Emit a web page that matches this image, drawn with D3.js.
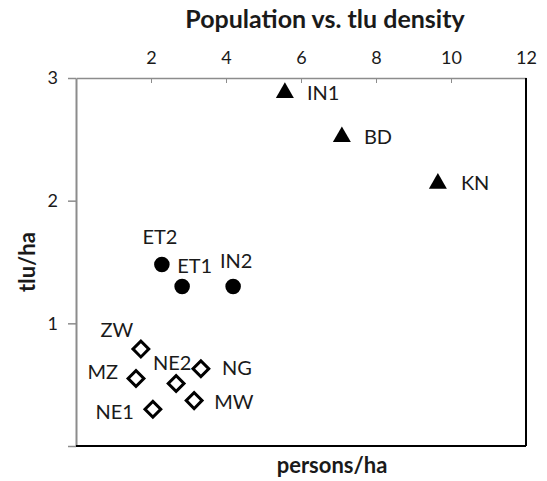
<!DOCTYPE html>
<html><head><meta charset="utf-8">
<script src="https://cdn.jsdelivr.net/npm/d3@7"></script>
<style>body{margin:0;background:#fff}</style>
</head><body><svg id="c" width="547" height="481"></svg>
<script>
// Data
const triNames = ["IN1","BD","KN"];
const triX = [5.57, 7.09, 9.65];
const triY = [2.88, 2.52, 2.14];
const cirNames = ["ET2","ET1","IN2"];
const cirX = [2.29, 2.83, 4.19];
const cirY = [1.48, 1.30, 1.30];
const diaNames = ["ZW","MZ","NE2","NG","MW","NE1"];
const diaX = [1.73, 1.60, 2.67, 3.33, 3.15, 2.05];
const diaY = [0.79, 0.55, 0.51, 0.63, 0.37, 0.30];
const xTicks = [2,4,6,8,10,12];
const yTicks = [0,1,2,3];
const title = "Population vs. tlu density";
const xTitle = "persons/ha";
const yTitle = "tlu/ha";

// Label placement (layout)
const labelPlace = {
  IN1:[22,0,"start"], BD:[22,0,"start"], KN:[23,0,"start"],
  ET2:[-2,-27,"middle"], ET1:[-5,-21,"start"], IN2:[3,-26,"middle"],
  ZW:[-24,-19,"middle"], MZ:[-18,-7,"end"], NE2:[-4,-20,"middle"],
  NG:[21,-1,"start"], MW:[20,1,"start"], NE1:[-19,3,"end"]
};

const font = "Lato, 'Open Sans', sans-serif";
const svg = d3.select("#c");
const L=76, R=526, T=78, B=446;
const x = d3.scaleLinear().domain([0,12]).range([L,R]);
const y = d3.scaleLinear().domain([0,3]).range([B,T]);

// Top axis
const gx = svg.append("g").attr("transform",`translate(0,${T})`)
  .call(d3.axisTop(x).tickValues(xTicks).tickSizeInner(-5).tickSizeOuter(0).tickPadding(14));
gx.select(".domain").attr("stroke","#8c8c8c").attr("stroke-width",1.5);
gx.selectAll(".tick line").attr("stroke","#8c8c8c");
gx.selectAll(".tick text").attr("font-family",font).attr("font-size",18).attr("fill","#1a1a1a");

// Left axis
const gy = svg.append("g").attr("transform",`translate(${L},0)`)
  .call(d3.axisLeft(y).tickValues(yTicks).tickSizeInner(8).tickSizeOuter(0).tickPadding(10)
    .tickFormat(d=>d===0?"":d));
gy.select(".domain").attr("stroke","#8c8c8c").attr("stroke-width",2);
gy.selectAll(".tick line").attr("stroke","#8c8c8c").attr("stroke-width",1.5);
gy.selectAll(".tick text").attr("font-family",font).attr("font-size",18).attr("fill","#1a1a1a");

// Bottom and right border
svg.append("line").attr("x1",L).attr("x2",R).attr("y1",B).attr("y2",B).attr("stroke","#000").attr("stroke-width",2);
svg.append("line").attr("x1",R).attr("x2",R).attr("y1",T).attr("y2",B).attr("stroke","#000").attr("stroke-width",2);

// Titles
svg.append("text").attr("x",325).attr("y",28).attr("text-anchor","middle")
  .attr("font-family",font).attr("font-weight","bold").attr("font-size",25).attr("fill","#1a1a1a").text(title);
svg.append("text").attr("x",332).attr("y",473).attr("text-anchor","middle")
  .attr("font-family",font).attr("font-weight","bold").attr("font-size",22).attr("fill","#1a1a1a").text(xTitle);
svg.append("text").attr("transform","translate(35,262) rotate(-90)").attr("text-anchor","middle")
  .attr("font-family",font).attr("font-weight","bold").attr("font-size",22).attr("fill","#1a1a1a").text(yTitle);

function drawGroup(names, xs, ys, sym, size, style){
  const data = names.map((n,i)=>({n, x:xs[i], y:ys[i]}));
  const g = svg.append("g");
  g.selectAll("path").data(data).join("path")
    .attr("d", d3.symbol().type(sym).size(size)())
    .attr("transform", d=>`translate(${x(d.x)},${y(d.y)})` + (style.rot?" rotate(45)":""))
    .attr("fill", style.fill).attr("stroke", style.stroke||"none").attr("stroke-width", style.sw||0);
  g.selectAll("text").data(data).join("text")
    .attr("x", d=>x(d.x)+labelPlace[d.n][0])
    .attr("y", d=>y(d.y)+labelPlace[d.n][1])
    .attr("dy","0.35em")
    .attr("text-anchor", d=>labelPlace[d.n][2])
    .attr("font-family",font).attr("font-size",20).attr("fill","#1a1a1a")
    .text(d=>d.n);
}
drawGroup(triNames, triX, triY, d3.symbolTriangle, 140, {fill:"#000"});
drawGroup(cirNames, cirX, cirY, d3.symbolCircle, 190, {fill:"#000"});
drawGroup(diaNames, diaX, diaY, d3.symbolSquare, 125, {fill:"#fff", stroke:"#000", sw:3, rot:true});
</script></body></html>
